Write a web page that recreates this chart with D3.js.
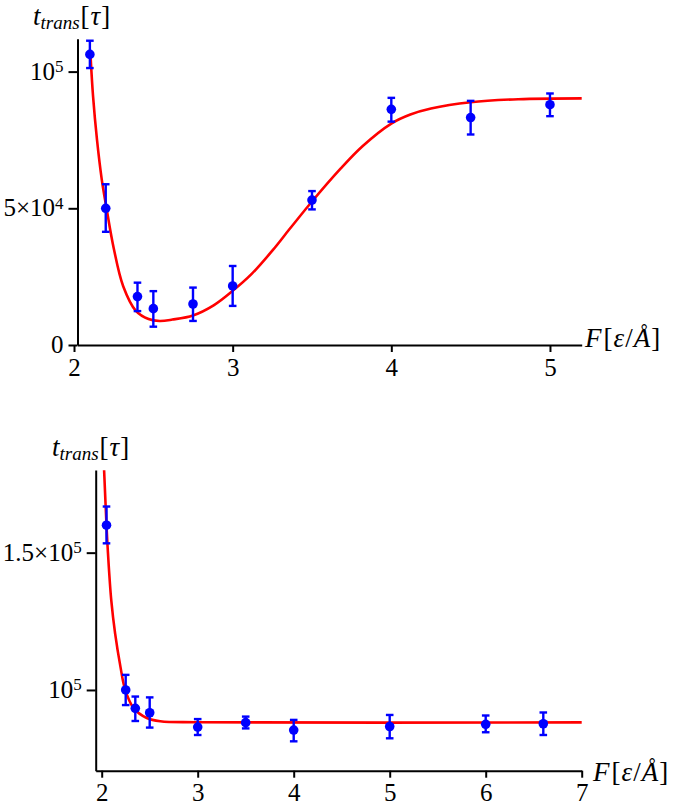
<!DOCTYPE html>
<html>
<head>
<meta charset="utf-8">
<script src="https://cdn.jsdelivr.net/npm/d3@7"></script>
<style>
  body { margin: 0; background: #fff; }
  svg { display: block; }
  .axis path, .axis line { stroke: #000; stroke-width: 2px; }
</style>
</head>
<body>
<svg id="chart" width="675" height="809"></svg>
<script>
const serif = "'Liberation Serif', 'Times New Roman', Times, serif";

// top panel: measured points (F, t_trans) with error bars
const topF  = [2.1, 2.2, 2.4, 2.5, 2.75, 3, 3.5, 4, 4.5, 5];
const topT  = [106300, 50000, 17700, 13300, 15000, 21600, 53000, 86200, 83200, 87900];
const topLo = [101300, 41400, 12400, 6700, 8800, 14300, 49600, 81700, 77000, 83700];
const topHi = [111300, 58800, 22800, 19700, 21000, 28900, 56300, 90400, 89300, 92000];
// top panel: fitted curve
const topFitF = [2.105, 2.12, 2.145, 2.175, 2.205, 2.25, 2.31, 2.39, 2.47, 2.54, 2.62, 2.75, 2.88, 3.0, 3.12, 3.25, 3.36, 3.5, 3.68, 3.82, 4.0, 4.12, 4.25, 4.5, 4.8, 5.2];
const topFitT = [105000, 91000, 75000, 60500, 50000, 35500, 21500, 12500, 9500, 8800, 9300, 10800, 14500, 19800, 26000, 34500, 42500, 52500, 64500, 72800, 81000, 84300, 86500, 88800, 89900, 90200];
const topXTicks = [2, 3, 4, 5];
const topYTicks = [0, 50000, 100000];
const topYLabels = [["0", ""], ["5×10", "4"], ["10", "5"]];

// bottom panel
const botF  = [2.05, 2.25, 2.35, 2.5, 3, 3.5, 4, 5, 6, 6.6];
const botT  = [160000, 100000, 93300, 91700, 86500, 88100, 85400, 86700, 87500, 87700];
const botLo = [153400, 94500, 88700, 86300, 83600, 86000, 81300, 82400, 84600, 83600];
const botHi = [166800, 105500, 97600, 97300, 89400, 90300, 89100, 90900, 90700, 91800];
const botFitF = [2.025, 2.05, 2.065, 2.1, 2.14, 2.195, 2.245, 2.33, 2.47, 2.61, 3.0, 7.0];
const botFitT = [180000, 160000, 150000, 132500, 120500, 108500, 100000, 93500, 89800, 88600, 88250, 88200];
const botXTicks = [2, 3, 4, 5, 6, 7];
const botYTicks = [100000, 150000];
const botYLabels = [["10", "5"], ["1.5×10", "5"]];

const svg = d3.select("#chart");

function drawPanel(p) {
    const x = d3.scaleLinear().domain(p.xDomain).range(p.xRange);
    const y = d3.scaleLinear().domain(p.yDomain).range(p.yRange);

    const g = svg.append("g");

    g.append("defs").append("clipPath")
        .attr("id", p.id)
        .append("rect")
        .attr("x", p.xRange[0]).attr("y", p.yRange[1])
        .attr("width", p.xRange[1] - p.xRange[0] + 2)
        .attr("height", p.yRange[0] - p.yRange[1]);

    // x axis
    const xa = g.append("g")
        .attr("class", "axis")
        .attr("transform", `translate(0,${p.yRange[0]})`)
        .call(d3.axisBottom(x).tickValues(p.xTicks).tickSize(7).tickSizeOuter(0).tickPadding(6).tickFormat(d3.format("d")));

    xa.selectAll(".tick text")
        .style("font-family", serif)
        .style("font-size", "25px")
        .attr("fill", "#000");

    // y axis
    const ya = g.append("g")
        .attr("class", "axis")
        .attr("transform", `translate(${p.xRange[0]},0)`)
        .call(d3.axisLeft(y).tickValues(p.yTicks).tickSize(9).tickSizeOuter(0).tickPadding(5));

    ya.selectAll(".tick text").each(function(d, i) {
        const t = d3.select(this).text("")
            .attr("dy", "0.3em")
            .attr("fill", "#000")
            .style("font-family", serif)
            .style("font-size", "25px");
        t.append("tspan").text(p.yLabels[i][0]);
        if (p.yLabels[i][1]) {
            t.append("tspan").attr("dy", "-0.45em").style("font-size", "17px").text(p.yLabels[i][1]);
        }
    });

    // fit line
    const line = d3.line()
        .x(i => x(p.fitF[i]))
        .y(i => y(p.fitT[i]))
        .curve(d3.curveCatmullRom.alpha(0.5));

    g.append("path")
        .attr("clip-path", `url(#${p.id})`)
        .attr("d", line(d3.range(p.fitF.length)))
        .attr("fill", "none")
        .attr("stroke", "#ff0000")
        .attr("stroke-width", 2.6);

    // error bars
    const idx = d3.range(p.f.length);
    const eb = g.selectAll(".err")
        .data(idx)
        .enter().append("g")
        .attr("stroke", "#0000ff")
        .attr("stroke-width", 2.4);

    eb.append("line")
        .attr("x1", i => x(p.f[i])).attr("x2", i => x(p.f[i]))
        .attr("y1", i => y(p.lo[i])).attr("y2", i => y(p.hi[i]));
    eb.append("line")
        .attr("x1", i => x(p.f[i]) - 3.8).attr("x2", i => x(p.f[i]) + 3.8)
        .attr("y1", i => y(p.lo[i])).attr("y2", i => y(p.lo[i]));
    eb.append("line")
        .attr("x1", i => x(p.f[i]) - 3.8).attr("x2", i => x(p.f[i]) + 3.8)
        .attr("y1", i => y(p.hi[i])).attr("y2", i => y(p.hi[i]));

    g.selectAll(".dot")
        .data(idx)
        .enter().append("circle")
        .attr("cx", i => x(p.f[i]))
        .attr("cy", i => y(p.t[i]))
        .attr("r", 4.8)
        .attr("fill", "#0000ff");

    // axis titles
    const yt = g.append("text")
        .attr("x", p.yTitle[0]).attr("y", p.yTitle[1])
        .style("font-family", serif)
        .style("font-size", "27px");
    yt.append("tspan").style("font-style", "italic").text("t");
    yt.append("tspan").style("font-style", "italic").style("font-size", "19px").attr("dy", 4).text("trans");
    yt.append("tspan").attr("dy", -4).attr("dx", 1).text("[");
    yt.append("tspan").style("font-style", "italic").attr("dx", 1).text("τ");
    yt.append("tspan").attr("dx", 1).text("]");

    const xt = g.append("text")
        .attr("x", p.xTitle[0]).attr("y", p.xTitle[1])
        .style("font-family", serif)
        .style("font-size", "27px");
    xt.append("tspan").style("font-style", "italic").text("F");
    xt.append("tspan").attr("dx", 2).text("[");
    xt.append("tspan").style("font-style", "italic").attr("dx", 1).text("ε");
    xt.append("tspan").attr("dx", 1).text("/");
    xt.append("tspan").style("font-style", "italic").attr("dx", 1).text("Å");
    xt.append("tspan").attr("dx", 1).text("]");
}

drawPanel({
    id: "clipTop",
    xDomain: [2.022, 5.2], xRange: [77.5, 581.7],
    yDomain: [0, 112000], yRange: [345, 38.8],
    xTicks: topXTicks, yTicks: topYTicks, yLabels: topYLabels,
    f: topF, t: topT, lo: topLo, hi: topHi,
    fitF: topFitF, fitT: topFitT,
    yTitle: [33, 25], xTitle: [585, 347]
});

drawPanel({
    id: "clipBot",
    xDomain: [1.9375, 7], xRange: [95.7, 581.7],
    yDomain: [70600, 180100], yRange: [770.7, 470],
    xTicks: botXTicks, yTicks: botYTicks, yLabels: botYLabels,
    f: botF, t: botT, lo: botLo, hi: botHi,
    fitF: botFitF, fitT: botFitT,
    yTitle: [52, 456], xTitle: [593, 781]
});
</script>
</body>
</html>
